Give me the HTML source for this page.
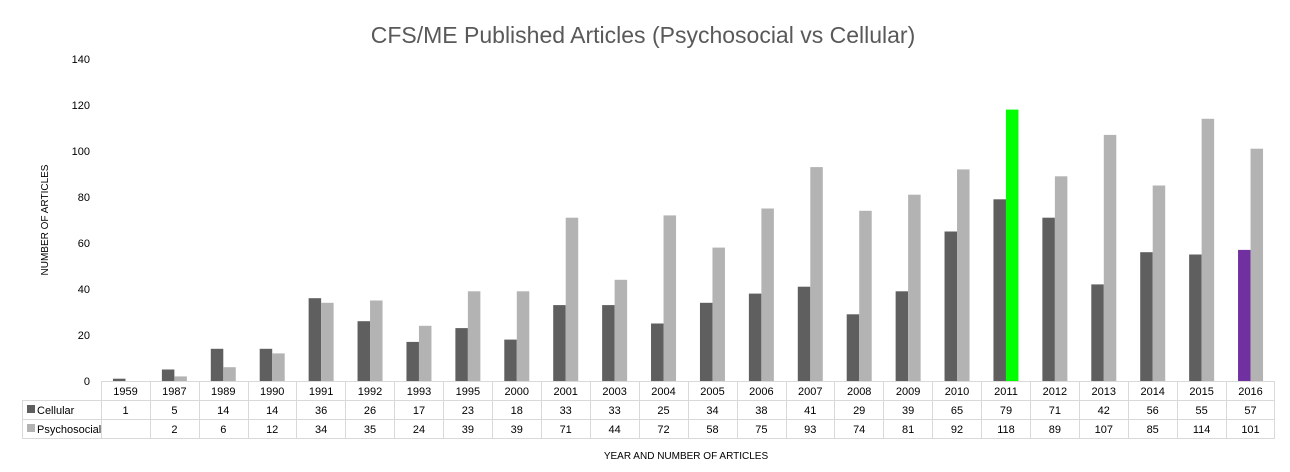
<!DOCTYPE html>
<html><head><meta charset="utf-8"><style>
html,body{margin:0;padding:0;background:#fff;}
svg{display:block;font-family:"Liberation Sans",sans-serif;}
</style></head><body>
<svg width="1290" height="472" viewBox="0 0 1290 472" xmlns="http://www.w3.org/2000/svg">
<rect width="1290" height="472" fill="#fff"/>
<text x="643" y="43" text-anchor="middle" font-size="23" fill="#595959">CFS/ME Published Articles (Psychosocial vs Cellular)</text>
<g font-size="11" fill="#000" text-anchor="end">
<text x="90" y="385">0</text><text x="90" y="339">20</text><text x="90" y="293">40</text><text x="90" y="247">60</text>
<text x="90" y="201">80</text><text x="90" y="155">100</text><text x="90" y="109">120</text><text x="90" y="63">140</text>
</g>
<text transform="translate(48,220) rotate(-90)" text-anchor="middle" font-size="10" fill="#000">NUMBER OF ARTICLES</text>
<g transform="translate(0,381) scale(1,-2.3)">
<g fill="#5f5f5f">
<rect x="112.96" y="0" width="12.5" height="1"/><rect x="161.88" y="0" width="12.5" height="5"/><rect x="210.79" y="0" width="12.5" height="14"/><rect x="259.71" y="0" width="12.5" height="14"/><rect x="308.63" y="0" width="12.5" height="36"/><rect x="357.54" y="0" width="12.5" height="26"/><rect x="406.46" y="0" width="12.5" height="17"/><rect x="455.38" y="0" width="12.5" height="23"/><rect x="504.29" y="0" width="12.5" height="18"/><rect x="553.21" y="0" width="12.5" height="33"/><rect x="602.13" y="0" width="12.5" height="33"/><rect x="651.04" y="0" width="12.5" height="25"/><rect x="699.96" y="0" width="12.5" height="34"/><rect x="748.88" y="0" width="12.5" height="38"/><rect x="797.79" y="0" width="12.5" height="41"/><rect x="846.71" y="0" width="12.5" height="29"/><rect x="895.63" y="0" width="12.5" height="39"/><rect x="944.54" y="0" width="12.5" height="65"/><rect x="993.46" y="0" width="12.5" height="79"/><rect x="1042.38" y="0" width="12.5" height="71"/><rect x="1091.29" y="0" width="12.5" height="42"/><rect x="1140.21" y="0" width="12.5" height="56"/><rect x="1189.13" y="0" width="12.5" height="55"/>
</g>
<rect x="1238.04" y="0" width="12.5" height="57" fill="#7030a0"/>
<g fill="#b3b3b3">
<rect x="174.38" y="0" width="12.5" height="2"/><rect x="223.29" y="0" width="12.5" height="6"/><rect x="272.21" y="0" width="12.5" height="12"/><rect x="321.13" y="0" width="12.5" height="34"/><rect x="370.04" y="0" width="12.5" height="35"/><rect x="418.96" y="0" width="12.5" height="24"/><rect x="467.88" y="0" width="12.5" height="39"/><rect x="516.79" y="0" width="12.5" height="39"/><rect x="565.71" y="0" width="12.5" height="71"/><rect x="614.63" y="0" width="12.5" height="44"/><rect x="663.54" y="0" width="12.5" height="72"/><rect x="712.46" y="0" width="12.5" height="58"/><rect x="761.38" y="0" width="12.5" height="75"/><rect x="810.29" y="0" width="12.5" height="93"/><rect x="859.21" y="0" width="12.5" height="74"/><rect x="908.13" y="0" width="12.5" height="81"/><rect x="957.04" y="0" width="12.5" height="92"/><rect x="1054.88" y="0" width="12.5" height="89"/><rect x="1103.79" y="0" width="12.5" height="107"/><rect x="1152.71" y="0" width="12.5" height="85"/><rect x="1201.63" y="0" width="12.5" height="114"/><rect x="1250.54" y="0" width="12.5" height="101"/>
</g>
<rect x="1005.96" y="0" width="12.5" height="118" fill="#00ff00"/>
</g>
<g stroke="#d9d9d9" stroke-width="1" fill="none">
<line x1="101" y1="381.5" x2="1275" y2="381.5"/>
<line x1="22" y1="400.5" x2="1275" y2="400.5"/>
<line x1="22" y1="419.5" x2="1275" y2="419.5"/>
<line x1="22" y1="438.5" x2="1275" y2="438.5"/>
<line x1="22.5" y1="400" x2="22.5" y2="439"/>
<line x1="101.5" y1="381" x2="101.5" y2="439"/><line x1="150.5" y1="381" x2="150.5" y2="439"/><line x1="199.5" y1="381" x2="199.5" y2="439"/><line x1="248.5" y1="381" x2="248.5" y2="439"/><line x1="296.5" y1="381" x2="296.5" y2="439"/><line x1="345.5" y1="381" x2="345.5" y2="439"/><line x1="394.5" y1="381" x2="394.5" y2="439"/><line x1="443.5" y1="381" x2="443.5" y2="439"/><line x1="492.5" y1="381" x2="492.5" y2="439"/><line x1="541.5" y1="381" x2="541.5" y2="439"/><line x1="590.5" y1="381" x2="590.5" y2="439"/><line x1="639.5" y1="381" x2="639.5" y2="439"/><line x1="688.5" y1="381" x2="688.5" y2="439"/><line x1="737.5" y1="381" x2="737.5" y2="439"/><line x1="786.5" y1="381" x2="786.5" y2="439"/><line x1="834.5" y1="381" x2="834.5" y2="439"/><line x1="883.5" y1="381" x2="883.5" y2="439"/><line x1="932.5" y1="381" x2="932.5" y2="439"/><line x1="981.5" y1="381" x2="981.5" y2="439"/><line x1="1030.5" y1="381" x2="1030.5" y2="439"/><line x1="1079.5" y1="381" x2="1079.5" y2="439"/><line x1="1128.5" y1="381" x2="1128.5" y2="439"/><line x1="1177.5" y1="381" x2="1177.5" y2="439"/><line x1="1226.5" y1="381" x2="1226.5" y2="439"/><line x1="1274.5" y1="381" x2="1274.5" y2="439"/>
</g>
<rect x="27" y="405" width="8" height="8" fill="#5f5f5f"/>
<rect x="27" y="424" width="8" height="8" fill="#b3b3b3"/>
<g font-size="11" fill="#000">
<text x="37" y="414">Cellular</text>
<text x="37" y="433">Psychosocial</text>
</g>
<g font-size="11" fill="#000" text-anchor="middle">
<text x="125.5" y="395">1959</text><text x="174.4" y="395">1987</text><text x="223.3" y="395">1989</text><text x="272.2" y="395">1990</text><text x="321.1" y="395">1991</text><text x="370" y="395">1992</text><text x="419" y="395">1993</text><text x="467.9" y="395">1995</text><text x="516.8" y="395">2000</text><text x="565.7" y="395">2001</text><text x="614.6" y="395">2003</text><text x="663.5" y="395">2004</text><text x="712.5" y="395">2005</text><text x="761.4" y="395">2006</text><text x="810.3" y="395">2007</text><text x="859.2" y="395">2008</text><text x="908.1" y="395">2009</text><text x="957" y="395">2010</text><text x="1006" y="395">2011</text><text x="1054.9" y="395">2012</text><text x="1103.8" y="395">2013</text><text x="1152.7" y="395">2014</text><text x="1201.6" y="395">2015</text><text x="1250.5" y="395">2016</text>
<text x="125.5" y="414">1</text><text x="174.4" y="414">5</text><text x="223.3" y="414">14</text><text x="272.2" y="414">14</text><text x="321.1" y="414">36</text><text x="370" y="414">26</text><text x="419" y="414">17</text><text x="467.9" y="414">23</text><text x="516.8" y="414">18</text><text x="565.7" y="414">33</text><text x="614.6" y="414">33</text><text x="663.5" y="414">25</text><text x="712.5" y="414">34</text><text x="761.4" y="414">38</text><text x="810.3" y="414">41</text><text x="859.2" y="414">29</text><text x="908.1" y="414">39</text><text x="957" y="414">65</text><text x="1006" y="414">79</text><text x="1054.9" y="414">71</text><text x="1103.8" y="414">42</text><text x="1152.7" y="414">56</text><text x="1201.6" y="414">55</text><text x="1250.5" y="414">57</text>
<text x="174.4" y="433">2</text><text x="223.3" y="433">6</text><text x="272.2" y="433">12</text><text x="321.1" y="433">34</text><text x="370" y="433">35</text><text x="419" y="433">24</text><text x="467.9" y="433">39</text><text x="516.8" y="433">39</text><text x="565.7" y="433">71</text><text x="614.6" y="433">44</text><text x="663.5" y="433">72</text><text x="712.5" y="433">58</text><text x="761.4" y="433">75</text><text x="810.3" y="433">93</text><text x="859.2" y="433">74</text><text x="908.1" y="433">81</text><text x="957" y="433">92</text><text x="1006" y="433">118</text><text x="1054.9" y="433">89</text><text x="1103.8" y="433">107</text><text x="1152.7" y="433">85</text><text x="1201.6" y="433">114</text><text x="1250.5" y="433">101</text>
</g>
<text x="686" y="459" text-anchor="middle" font-size="10" fill="#000">YEAR AND NUMBER OF ARTICLES</text>
</svg>
</body></html>
